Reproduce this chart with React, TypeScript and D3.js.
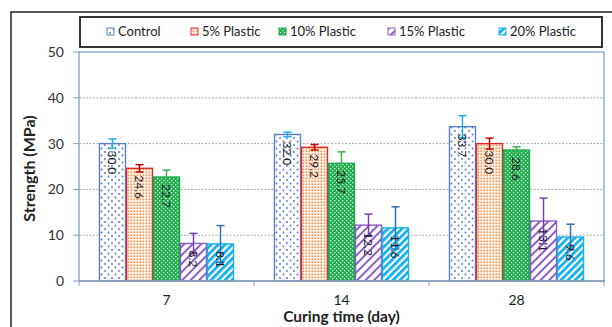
import React from "react";
import * as d3 from "d3";

const categories = ["7", "14", "28"];
const seriesNames = ["Control", "5% Plastic", "10% Plastic", "15% Plastic", "20% Plastic"];
const control = [30.0, 32.0, 33.7];
const plastic5 = [24.6, 29.2, 30.0];
const plastic10 = [22.7, 25.7, 28.6];
const plastic15 = [8.2, 12.2, 13.1];
const plastic20 = [8.1, 11.6, 9.6];
const errControl = [1.0, 0.5, 2.4];
const err5 = [0.8, 0.6, 1.2];
const err10 = [1.5, 2.5, 0.7];
const err15 = [2.2, 2.4, 5.0];
const err20 = [4.0, 4.6, 2.8];
const yTicks = [0, 10, 20, 30, 40, 50];

const values = [control, plastic5, plastic10, plastic15, plastic20];
const errors = [errControl, err5, err10, err15, err20];

const strokes = ["#5b7fcc", "#e02a2a", "#19a84a", "#8a5cc4", "#1ab0ee"];
const errColors = ["#1aaee8", "#c00000", "#3cb04e", "#7a3fb0", "#2e70b8"];
const patternIds = ["pCtrl", "p5", "p10", "p15", "p20"];
const legendX = [107, 191, 279, 388, 499];

export default function App() {
  const W = 612, H = 327;
  const left = 79, right = 604, top = 52, bottom = 281;
  const font = "Lato, 'Open Sans', sans-serif";

  const x0 = d3.scaleBand<string>().domain(categories).range([left, right]).paddingInner(0).paddingOuter(0);
  const x1 = d3.scaleBand<number>().domain(d3.range(5)).range([0, x0.bandwidth()]).paddingOuter(0.74);
  const y = d3.scaleLinear().domain([0, 50]).range([bottom, top]);

  return (
    <svg width={W} height={H} style={{ position: "absolute", left: 0, top: 0, background: "#fff" }}>
      <defs>
        <pattern id="pCtrl" width="7" height="7" patternUnits="userSpaceOnUse">
          <rect width="7" height="7" fill="#fff" />
          <circle cx="1.5" cy="1.5" r="0.9" fill="#4a72c8" />
          <circle cx="5" cy="5" r="0.9" fill="#4a72c8" />
        </pattern>
        <pattern id="p5" width="3" height="3" patternUnits="userSpaceOnUse">
          <rect width="3" height="3" fill="#fff3ea" />
          <rect x="0.5" y="0.5" width="1.6" height="1.6" fill="#f39550" />
        </pattern>
        <pattern id="p10" width="4" height="4" patternUnits="userSpaceOnUse">
          <rect width="4" height="4" fill="#1fae4d" />
          <rect x="0" y="0" width="1.3" height="1.3" fill="#d8f3df" />
          <rect x="2" y="2" width="1.3" height="1.3" fill="#d8f3df" />
        </pattern>
        <pattern id="p15" width="6" height="6" patternUnits="userSpaceOnUse" patternTransform="rotate(45)">
          <rect width="6" height="6" fill="#fff" />
          <rect x="0" y="0" width="2" height="6" fill="#8d5fc6" />
        </pattern>
        <pattern id="p20" width="5" height="5" patternUnits="userSpaceOnUse" patternTransform="rotate(45)">
          <rect width="5" height="5" fill="#fff" />
          <rect x="0" y="0" width="2.8" height="5" fill="#12b0f0" />
        </pattern>
      </defs>

      {/* outer frame */}
      <rect x={11} y={12} width={W + 20} height={H + 20} fill="none" stroke="#222" strokeWidth={1.5} />

      {/* gridlines */}
      {yTicks.filter(t => t > 0 && t < 50).map(t => (
        <line key={t} x1={left} x2={right} y1={y(t)} y2={y(t)} stroke="#a8a8a8" strokeWidth={1} strokeDasharray="2,1.5" />
      ))}

      {/* bars */}
      {categories.map((c, ci) => (
        <g key={c} transform={`translate(${x0(c)},0)`}>
          {values.map((vals, si) => {
            const bx = x1(si)!;
            const bw = x1.bandwidth();
            const v = vals[ci];
            return (
              <g key={si}>
                <rect x={bx + 0.5} y={y(v)} width={bw - 1} height={y(0) - y(v)} fill={`url(#${patternIds[si]})`} stroke={strokes[si]} strokeWidth={1.4} />
              </g>
            );
          })}
          {values.map((vals, si) => {
            const cx = x1(si)! + x1.bandwidth() / 2;
            const v = vals[ci];
            const e = errors[si][ci];
            return (
              <g key={"e" + si} stroke={errColors[si]} strokeWidth={1.5}>
                <line x1={cx} x2={cx} y1={y(v + e)} y2={y(v - e)} />
                <line x1={cx - 4} x2={cx + 4} y1={y(v + e)} y2={y(v + e)} />
                <line x1={cx - 4} x2={cx + 4} y1={y(v - e)} y2={y(v - e)} />
              </g>
            );
          })}
          {values.map((vals, si) => {
            const cx = x1(si)! + x1.bandwidth() / 2;
            const v = vals[ci];
            return (
              <text key={"l" + si} transform={`translate(${cx - 4.5},${y(v) + 7}) rotate(90)`} fontFamily={font} fontSize={12} fill="#1a1a2a" textAnchor="start">
                {v.toFixed(1)}
              </text>
            );
          })}
        </g>
      ))}

      {/* plot border */}
      <rect x={left} y={top} width={right - left} height={bottom - top} fill="none" stroke="#7f9bd4" strokeWidth={1.3} />
      <line x1={left} x2={right + 1} y1={bottom} y2={bottom} stroke="#8a9bb8" strokeWidth={1.5} />

      {/* y ticks */}
      {yTicks.map(t => (
        <g key={t}>
          <line x1={left - 6} x2={left} y1={y(t)} y2={y(t)} stroke="#8a9bb8" strokeWidth={1} />
          <text x={64} y={y(t)} dy="0.36em" textAnchor="end" fontFamily={font} fontSize={14} fill="#333">{t}</text>
        </g>
      ))}
      {/* x ticks */}
      {[...categories.map(c => x0(c)!), right].map((xx, i) => (
        <line key={i} x1={xx} x2={xx} y1={bottom} y2={bottom + 5} stroke="#8a9bb8" strokeWidth={1} />
      ))}
      {categories.map(c => (
        <text key={c} x={x0(c)! + x0.bandwidth() / 2} y={305} textAnchor="middle" fontFamily={font} fontSize={14} fill="#222">{c}</text>
      ))}

      {/* axis titles */}
      <text transform={`translate(35,${(top + bottom) / 2 + 2}) rotate(-90)`} textAnchor="middle" fontFamily={font} fontSize={16} fontWeight="bold" fill="#222">Strength (MPa)</text>
      <text x={(left + right) / 2} y={322} textAnchor="middle" fontFamily={font} fontSize={15.5} fontWeight="bold" fill="#222">Curing time (day)</text>

      {/* legend */}
      <rect x={80} y={17} width={522} height={30} fill="#fff" stroke="#333" strokeWidth={2} />
      {seriesNames.map((n, i) => (
        <g key={n}>
          <rect x={legendX[i]} y={28} width={7} height={7} fill={`url(#${patternIds[i]})`} stroke={strokes[i]} strokeWidth={1} />
          <text x={legendX[i] + 11} y={36} fontFamily={font} fontSize={13} fill="#222">{n}</text>
        </g>
      ))}
    </svg>
  );
}
